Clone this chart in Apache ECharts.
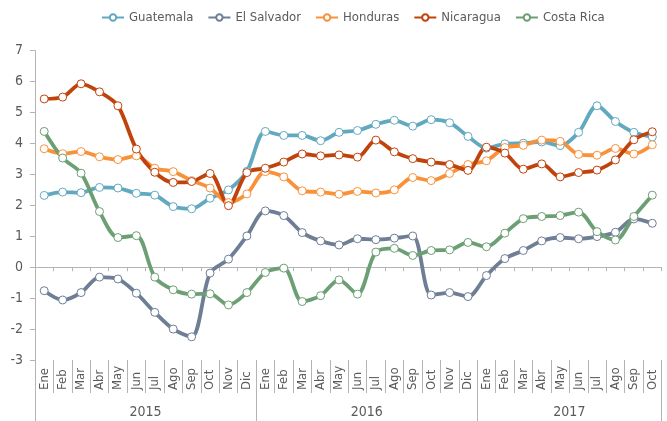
<!DOCTYPE html>
<html>
<head>
<meta charset="utf-8">
<script src="https://cdn.jsdelivr.net/npm/echarts@6/dist/echarts.min.js"></script>
<style>
  html, body { margin: 0; padding: 0; background: #fff; }
  #chart { width: 667px; height: 421px; }
</style>
</head>
<body>
<div id="chart"></div>
<script>
// --- datos ---
const months = ['Ene','Feb','Mar','Abr','May','Jun','Jul','Ago','Sep','Oct','Nov','Dic'];
const years = ['2015', '2016', '2017'];
const monthsPerYear = [12, 12, 10];

const guatemala = [2.32, 2.43, 2.41, 2.58, 2.56, 2.39, 2.33, 1.96, 1.89, 2.23, 2.50, 3.10,
  4.39, 4.26, 4.26, 4.09, 4.36, 4.42, 4.62, 4.75, 4.56, 4.77, 4.67, 4.23,
  3.85, 3.99, 4.01, 4.05, 3.93, 4.36, 5.22, 4.71, 4.36, 4.21];
const elSalvador = [-0.76, -1.06, -0.82, -0.32, -0.38, -0.84, -1.46, -2.00, -2.25, -0.19, 0.26, 1.01,
  1.82, 1.67, 1.12, 0.85, 0.72, 0.92, 0.89, 0.94, 1.01, -0.90, -0.82, -0.95,
  -0.27, 0.28, 0.54, 0.85, 0.96, 0.92, 0.99, 1.13, 1.56, 1.42];
const honduras = [3.83, 3.67, 3.74, 3.57, 3.48, 3.60, 3.20, 3.09, 2.80, 2.56, 2.09, 2.37,
  3.09, 2.92, 2.47, 2.43, 2.36, 2.45, 2.40, 2.50, 2.90, 2.80, 3.03, 3.32,
  3.44, 3.87, 3.94, 4.11, 4.07, 3.65, 3.62, 3.84, 3.66, 3.96];
const nicaragua = [5.44, 5.50, 5.93, 5.67, 5.22, 3.82, 3.07, 2.74, 2.77, 3.03, 1.99, 3.06,
  3.20, 3.40, 3.66, 3.60, 3.63, 3.56, 4.11, 3.73, 3.51, 3.40, 3.32, 3.13,
  3.88, 3.69, 3.17, 3.34, 2.92, 3.06, 3.14, 3.47, 4.12, 4.38];
const costaRica = [4.39, 3.53, 3.04, 1.80, 0.96, 1.02, -0.32, -0.73, -0.87, -0.86, -1.22, -0.82,
  -0.17, -0.03, -1.11, -0.92, -0.41, -0.87, 0.49, 0.61, 0.38, 0.54, 0.56, 0.80,
  0.66, 1.10, 1.57, 1.64, 1.67, 1.78, 1.15, 0.88, 1.64, 2.33];

const seriesNames = ['Guatemala', 'El Salvador', 'Honduras', 'Nicaragua', 'Costa Rica'];
const seriesData = [guatemala, elSalvador, honduras, nicaragua, costaRica];
const colors = ['#62a9c0', '#6e7e95', '#f7923b', '#c1430c', '#6c9f73'];

// categorías (mes por año)
const categories = [];
monthsPerYear.forEach((n, yi) => {
  for (let i = 0; i < n; i++) categories.push(months[i] + ' ' + years[yi]);
});

// límites y centros de cada año para el eje de años
const yearBounds = [0];
const yearCenters = [];
monthsPerYear.forEach((n) => {
  const start = yearBounds[yearBounds.length - 1];
  yearCenters.push(start + n / 2);
  yearBounds.push(start + n);
});

const font = "'Liberation Sans Narrow', 'DejaVu Sans Condensed', 'Roboto', sans-serif";
const textColor = '#5a5a5a';
const axisColor = '#b4b4b4';

const chart = echarts.init(document.getElementById('chart'));

chart.setOption({
  animation: false,
  textStyle: { fontFamily: font },
  legend: {
    top: 6,
    left: 96,
    itemWidth: 22,
    itemHeight: 8,
    itemGap: 14,
    textStyle: { color: textColor, fontSize: 13, fontFamily: font },
    data: seriesNames
  },
  grid: {
    left: 35,
    right: 5.5,
    top: 50.7,
    bottom: 61,
    outerBoundsMode: 'none'
  },
  xAxis: [
    // meses (abajo)
    {
      type: 'category',
      data: categories,
      position: 'bottom',
      boundaryGap: true,
      axisLine: { show: false, onZero: false },
      axisTick: { show: true, interval: 0, length: 33, lineStyle: { color: axisColor } },
      axisLabel: {
        interval: 0,
        rotate: 90,
        align: 'left',
        margin: 30,
        color: textColor,
        fontSize: 13,
        fontFamily: font,
        formatter: (v) => v.split(' ')[0]
      },
      splitLine: { show: false }
    },
    // años (abajo)
    {
      type: 'value',
      position: 'bottom',
      min: 0,
      max: yearBounds[yearBounds.length - 1],
      axisLine: { show: false, onZero: false },
      axisTick: {
        show: true,
        length: 61,
        customValues: yearBounds,
        lineStyle: { color: axisColor }
      },
      axisLabel: {
        margin: 45,
        color: textColor,
        fontSize: 14,
        fontFamily: font,
        customValues: yearCenters,
        formatter: (v) => years[yearCenters.indexOf(v)] || ''
      },
      splitLine: { show: false }
    },
    // línea del cero
    {
      type: 'category',
      data: categories,
      position: 'bottom',
      boundaryGap: true,
      axisLine: { show: true, onZero: true, lineStyle: { color: axisColor, width: 1 } },
      axisTick: { show: true, interval: 0, length: 4, lineStyle: { color: axisColor } },
      axisLabel: { show: false },
      splitLine: { show: false }
    }
  ],
  yAxis: {
    type: 'value',
    min: -3,
    max: 7,
    interval: 1,
    axisLine: { show: true, lineStyle: { color: axisColor } },
    axisTick: { show: true, length: 5, lineStyle: { color: axisColor } },
    axisLabel: { color: textColor, fontSize: 14, fontFamily: font, margin: 12 },
    splitLine: { show: false }
  },
  series: seriesNames.map((name, i) => ({
    name: name,
    type: 'line',
    xAxisIndex: 0,
    data: seriesData[i],
    smooth: 0.3,
    symbol: 'circle',
    symbolSize: 8,
    color: colors[i],
    lineStyle: { color: colors[i], width: 3.8 },
    itemStyle: { color: '#fff', borderColor: colors[i], borderWidth: 1 }
  }))
});
</script>
</body>
</html>
